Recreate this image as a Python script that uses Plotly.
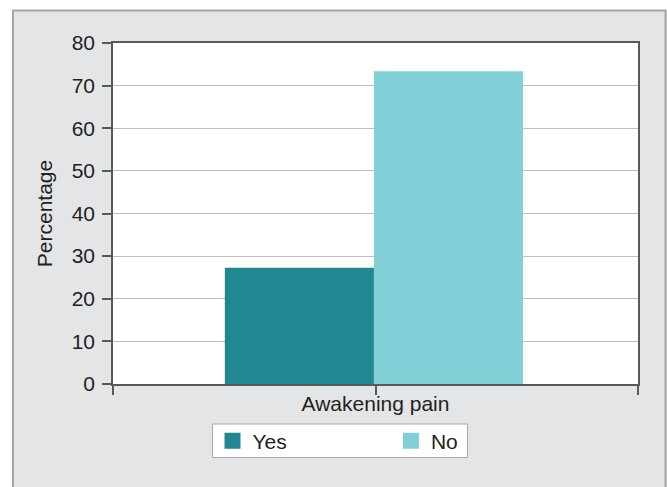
import plotly.graph_objects as go

# Data
categories = ["Awakening pain"]
series_names = ["Yes", "No"]
yes_values = [27.3]
no_values = [73.4]
y_ticks = [0, 10, 20, 30, 40, 50, 60, 70, 80]

W, H = 667, 487
ML, MR, MT, MB = 113, 29, 43, 103

colors = {"Yes": "#218891", "No": "#82d0d7"}
font_family = "Liberation Sans, Arial, Helvetica, sans-serif"
font_size = 21
text_color = "#231f20"
axis_color = "#595959"

x_pos = list(range(len(categories)))

plot_w = W - ML - MR
plot_h = H - MT - MB


def px_x(x):
    return (x - ML) / plot_w


def px_y(y):
    return (H - MB - y) / plot_h


fig = go.Figure()
fig.add_trace(go.Bar(
    x=x_pos, y=yes_values, name=series_names[0],
    width=0.284, offset=-0.287,
    marker=dict(color=colors["Yes"], line=dict(width=0)),
    showlegend=False,
))
fig.add_trace(go.Bar(
    x=x_pos, y=no_values, name=series_names[1],
    width=0.284, offset=-0.003,
    marker=dict(color=colors["No"], line=dict(width=0)),
    showlegend=False,
))
# Legend entries with larger square swatches; the first label is padded so
# the second entry sits toward the right of the legend box
legend_labels = {"Yes": "Yes" + "\u00a0" * 17, "No": "No"}
for name in series_names:
    fig.add_trace(go.Scatter(
        x=[None], y=[None], mode="markers", name=legend_labels[name],
        marker=dict(symbol="square", size=16, color=colors[name]),
        showlegend=True,
    ))

fig.update_layout(
    width=W, height=H,
    margin=dict(l=ML, r=MR, t=MT, b=MB, pad=0),
    paper_bgcolor="#e4e5e7",
    plot_bgcolor="#ffffff",
    font=dict(family=font_family, size=font_size, color=text_color),
    barmode="overlay",
    showlegend=True,
    legend=dict(
        orientation="h",
        x=px_x(212.5), xanchor="left",
        y=px_y(420.5), yanchor="top",
        bgcolor="rgba(0,0,0,0)",
        borderwidth=0,
        itemsizing="trace",
        font=dict(family=font_family, size=font_size, color=text_color),
    ),
    xaxis=dict(
        range=[-0.5, len(categories) - 0.5],
        tickvals=[-0.5] + x_pos + [len(categories) - 0.5],
        ticktext=[""] + categories + [""],
        ticks="outside", ticklen=9, tickwidth=1.5, tickcolor=axis_color,
        ticklabelstandoff=-9,
        showgrid=False, zeroline=False,
        showline=True, linecolor=axis_color, linewidth=1.5, mirror=True,
        tickfont=dict(size=font_size),
        fixedrange=True,
    ),
    yaxis=dict(
        range=[0, 80],
        tickvals=y_ticks,
        ticks="outside", ticklen=9, tickwidth=1.5, tickcolor=axis_color,
        ticklabelstandoff=3,
        showgrid=True, gridcolor="#bfbfbf", gridwidth=1.3,
        zeroline=False,
        showline=True, linecolor=axis_color, linewidth=1.5, mirror=True,
        title=dict(text="Percentage", font=dict(size=font_size), standoff=13),
        tickfont=dict(size=font_size),
        fixedrange=True,
    ),
    shapes=[
        # white surround outside the panel frame
        dict(type="rect", xref="paper", yref="paper", layer="below",
             x0=px_x(0), x1=px_x(12), y0=px_y(H), y1=px_y(0),
             fillcolor="#ffffff", line=dict(width=0)),
        dict(type="rect", xref="paper", yref="paper", layer="below",
             x0=px_x(0), x1=px_x(W), y0=px_y(10), y1=px_y(0),
             fillcolor="#ffffff", line=dict(width=0)),
        # panel frame
        dict(type="rect", xref="paper", yref="paper", layer="below",
             x0=px_x(13), x1=px_x(665.5), y0=px_y(H + 20), y1=px_y(10.5),
             fillcolor="rgba(0,0,0,0)", line=dict(color="#a5a5a5", width=2)),
        # legend box
        dict(type="rect", xref="paper", yref="paper", layer="below",
             x0=px_x(212.5), x1=px_x(467.5), y0=px_y(457.5), y1=px_y(424),
             fillcolor="#ffffff", line=dict(color="#a9a9a9", width=1)),
    ],
)

fig.write_html("out.html")
